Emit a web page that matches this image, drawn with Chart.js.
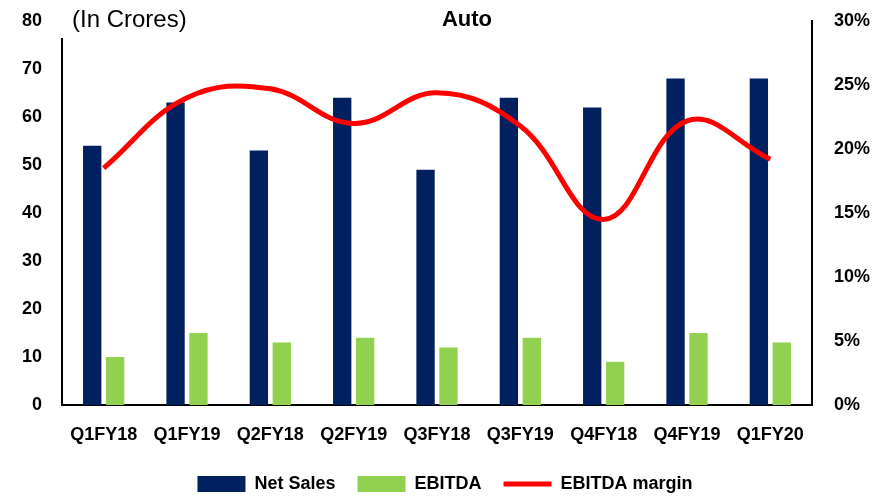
<!DOCTYPE html>
<html>
<head>
<meta charset="utf-8">
<script src="https://cdn.jsdelivr.net/npm/chart.js@4"></script>
<style>
    html, body { margin: 0; padding: 0; background: #fff; }
    #wrap { width: 890px; height: 496px; }
</style>
</head>
<body>
<div id="wrap"><canvas id="autoChart"></canvas></div>
<script>
// Données du graphique
const quarters = ['Q1FY18', 'Q1FY19', 'Q2FY18', 'Q2FY19', 'Q3FY18', 'Q3FY19', 'Q4FY18', 'Q4FY19', 'Q1FY20'];
const netSales = [54, 63, 53, 64, 49, 64, 62, 68, 68];
const ebitda = [10, 15, 13, 14, 12, 14, 9, 15, 13];
const ebitdaMargin = [18.5, 24.0, 24.7, 22.0, 24.4, 21.8, 14.5, 22.2, 19.2];
const leftTicks = [0, 10, 20, 30, 40, 50, 60, 70, 80];
const rightTicks = [0, 5, 10, 15, 20, 25, 30];

const fontFamily = "'Liberation Sans', Arial, sans-serif";
const tickFont = { family: fontFamily, size: 18, weight: 'bold' };

// Textes en haut du graphique (la zone de texte masque le haut de l'axe gauche)
const headerText = {
    id: 'headerText',
    afterDraw(chart) {
        const ctx = chart.ctx;
        ctx.save();
        ctx.fillStyle = '#fff';
        ctx.fillRect(56, 0, 140, 38);
        ctx.fillStyle = '#000';
        ctx.textBaseline = 'middle';
        ctx.font = '24px ' + fontFamily;
        ctx.textAlign = 'left';
        ctx.fillText('(In Crores)', 72, 20);
        ctx.font = 'bold 22px ' + fontFamily;
        ctx.textAlign = 'center';
        ctx.fillText('Auto', 467, 20);
        ctx.restore();
    }
};

// Largeur fixe des axes verticaux, sans marge haute/basse
function fixAxis(width) {
    return axis => {
        axis.width = width;
        axis.paddingTop = 0;
        axis.paddingBottom = 0;
    };
}

new Chart(document.getElementById('autoChart'), {
    type: 'bar',
    data: {
        labels: quarters,
        datasets: [{
            type: 'line',
            label: 'EBITDA margin',
            data: ebitdaMargin,
            yAxisID: 'y1',
            borderColor: '#ff0000',
            backgroundColor: '#ff0000',
            borderWidth: 5,
            pointRadius: 0,
            pointStyle: 'line',
            tension: 0.4,
            order: 0
        }, {
            label: 'Net Sales',
            data: netSales,
            yAxisID: 'y',
            backgroundColor: '#002060',
            borderWidth: 0,
            pointStyle: 'rect',
            categoryPercentage: 0.55,
            barPercentage: 0.8,
            order: 1
        }, {
            label: 'EBITDA',
            data: ebitda,
            yAxisID: 'y',
            backgroundColor: '#92d050',
            borderWidth: 0,
            pointStyle: 'rect',
            categoryPercentage: 0.55,
            barPercentage: 0.8,
            order: 1
        }]
    },
    options: {
        responsive: true,
        maintainAspectRatio: false,
        animation: false,
        layout: { padding: { top: 21, bottom: -7 } },
        plugins: {
            tooltip: { enabled: false },
            legend: {
                position: 'bottom',
                labels: {
                    color: '#000',
                    font: tickFont,
                    usePointStyle: true,
                    pointStyleWidth: 48,
                    boxHeight: 16,
                    padding: 22,
                    sort: (a, b) => a.datasetIndex === 0 ? 1 : (b.datasetIndex === 0 ? -1 : a.datasetIndex - b.datasetIndex)
                }
            }
        },
        scales: {
            x: {
                afterFit: axis => { axis.height = 48; },
                grid: { display: false, drawTicks: false },
                border: { color: '#000', width: 2 },
                ticks: { color: '#000', font: tickFont, padding: 19, maxRotation: 0 }
            },
            y: {
                position: 'left',
                min: 0,
                max: 80,
                afterBuildTicks: axis => { axis.ticks = leftTicks.map(v => ({ value: v })); },
                afterFit: fixAxis(62),
                grid: { display: false, drawTicks: false },
                border: { color: '#000', width: 2 },
                ticks: { color: '#000', font: tickFont, padding: 20 }
            },
            y1: {
                position: 'right',
                min: 0,
                max: 30,
                afterBuildTicks: axis => { axis.ticks = rightTicks.map(v => ({ value: v })); },
                afterFit: fixAxis(78),
                grid: { display: false, drawTicks: false },
                border: { color: '#000', width: 2 },
                ticks: { color: '#000', font: tickFont, padding: 22, callback: v => v + '%' }
            }
        }
    },
    plugins: [headerText]
});
</script>
</body>
</html>
